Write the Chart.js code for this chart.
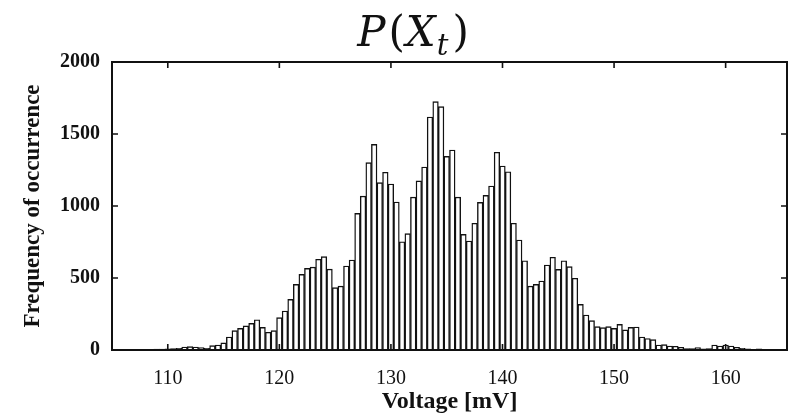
<!DOCTYPE html>
<html>
<head>
<meta charset="utf-8">
<script src="https://cdn.jsdelivr.net/npm/chart.js@4.4.1/dist/chart.umd.min.js"></script>
<style>
  html, body { margin: 0; padding: 0; background: #fff; }
  canvas { display: block; }
</style>
</head>
<body>
<canvas id="chartVoltageHistogram" width="790" height="414"></canvas>
<script>
// Bin centres of the histogram (mV), 0.5 mV wide
const binCenters = [
  108.5, 109.0, 109.5, 110.0, 110.5, 111.0, 111.5, 112.0, 112.5, 113.0,
  113.5, 114.0, 114.5, 115.0, 115.5, 116.0, 116.5, 117.0, 117.5, 118.0,
  118.5, 119.0, 119.5, 120.0, 120.5, 121.0, 121.5, 122.0, 122.5, 123.0,
  123.5, 124.0, 124.5, 125.0, 125.5, 126.0, 126.5, 127.0, 127.5, 128.0,
  128.5, 129.0, 129.5, 130.0, 130.5, 131.0, 131.5, 132.0, 132.5, 133.0,
  133.5, 134.0, 134.5, 135.0, 135.5, 136.0, 136.5, 137.0, 137.5, 138.0,
  138.5, 139.0, 139.5, 140.0, 140.5, 141.0, 141.5, 142.0, 142.5, 143.0,
  143.5, 144.0, 144.5, 145.0, 145.5, 146.0, 146.5, 147.0, 147.5, 148.0,
  148.5, 149.0, 149.5, 150.0, 150.5, 151.0, 151.5, 152.0, 152.5, 153.0,
  153.5, 154.0, 154.5, 155.0, 155.5, 156.0, 156.5, 157.0, 157.5, 158.0,
  158.5, 159.0, 159.5, 160.0, 160.5, 161.0, 161.5, 162.0, 162.5, 163.0,
  163.5
];

// Frequency of occurrence for each bin
const frequencies = [
  4, 6, 6, 8, 9, 12, 21, 23, 21, 16,
  12, 30, 35, 49, 90, 134, 150, 167, 185, 210,
  157, 123, 134, 225, 271, 352, 456, 525, 567, 576,
  630, 648, 562, 433, 444, 583, 625, 949, 1069, 1301,
  1428, 1162, 1234, 1153, 1028, 752, 808, 1062, 1174, 1271,
  1618, 1725, 1690, 1345, 1389, 1062, 803, 757, 880, 1025,
  1074, 1139, 1373, 1278, 1238, 880, 764, 620, 444, 456,
  479, 590, 644, 560, 620, 579, 498, 317, 243, 204,
  162, 155, 162, 150, 178, 140, 157, 160, 90, 80,
  72, 35, 37, 28, 26, 18, 10, 10, 16, 8,
  10, 35, 28, 35, 28, 19, 12, 8, 5, 8,
  4
];

// Tick labels
const xTickValues = [110, 120, 130, 140, 150, 160];
const yTickValues = [0, 500, 1000, 1500, 2000];

const INK = '#111111';

// Frame around the plot with inward tick marks on all four sides
const framePlugin = {
  id: 'frame',
  afterDatasetsDraw(chart) {
    const { ctx, chartArea: a, scales } = chart;
    const tick = 6;
    ctx.save();
    ctx.strokeStyle = INK;
    ctx.lineWidth = 1.6;
    xTickValues.forEach(v => {
      const px = scales.x.getPixelForValue(v);
      ctx.beginPath();
      ctx.moveTo(px, a.bottom); ctx.lineTo(px, a.bottom - tick);
      ctx.moveTo(px, a.top); ctx.lineTo(px, a.top + tick);
      ctx.stroke();
    });
    yTickValues.forEach(v => {
      const py = scales.y.getPixelForValue(v);
      ctx.beginPath();
      ctx.moveTo(a.left, py); ctx.lineTo(a.left + tick, py);
      ctx.moveTo(a.right, py); ctx.lineTo(a.right - tick, py);
      ctx.stroke();
    });
    ctx.lineWidth = 2;
    ctx.strokeRect(a.left, a.top, a.right - a.left, a.bottom - a.top);
    ctx.restore();
  }
};

// Title P(X_t) with an italic subscript
const mathTitlePlugin = {
  id: 'mathTitle',
  afterDraw(chart) {
    const { ctx } = chart;
    const italic = 'italic 42px "DejaVu Serif"';
    const upright = '42px "DejaVu Serif"';
    const sub = 'italic 29px "DejaVu Serif"';
    const parts = [
      { t: 'P', f: italic, dy: 0, gap: 3 },
      { t: '(', f: upright, dy: 0, gap: 1 },
      { t: 'X', f: italic, dy: 0, gap: 1 },
      { t: 't', f: sub, dy: 9, gap: 4 },
      { t: ')', f: upright, dy: 0, gap: 0 }
    ];
    ctx.save();
    let total = 0;
    parts.forEach(p => { ctx.font = p.f; p.w = ctx.measureText(p.t).width; total += p.w + p.gap; });
    let x = 413 - total / 2;
    const baseline = 46;
    ctx.fillStyle = INK;
    ctx.textBaseline = 'alphabetic';
    parts.forEach(p => {
      ctx.font = p.f;
      ctx.fillText(p.t, x, baseline + p.dy);
      x += p.w + p.gap;
    });
    ctx.restore();
  }
};

const ctx = document.getElementById('chartVoltageHistogram').getContext('2d');

const chart = new Chart(ctx, {
  type: 'bar',
  data: {
    datasets: [{
      label: 'Frequency of occurrence',
      data: binCenters.map((v, i) => ({ x: v, y: frequencies[i] })),
      backgroundColor: '#ffffff',
      borderColor: INK,
      borderWidth: 1.4,
      categoryPercentage: 1,
      barPercentage: 1
    }]
  },
  options: {
    responsive: false,
    animation: false,
    layout: {
      padding: { top: 62, right: 3, left: 0, bottom: 0 }
    },
    plugins: {
      legend: { display: false },
      tooltip: { enabled: false },
      title: { display: false }
    },
    scales: {
      x: {
        type: 'linear',
        offset: false,
        min: 105,
        max: 165.5,
        grid: { display: false, drawTicks: false },
        border: { display: false },
        afterBuildTicks: scale => {
          scale.ticks = xTickValues.map(v => ({ value: v }));
        },
        afterFit: scale => { scale.height = 64; },
        ticks: {
          padding: 17,
          color: INK,
          font: { family: '"Liberation Serif"', size: 20 },
          callback: v => String(v)
        },
        title: {
          display: true,
          text: 'Voltage [mV]',
          color: INK,
          font: { family: '"Liberation Serif"', size: 24, weight: 'bold', lineHeight: 1 },
          padding: { top: 0, bottom: 0 }
        }
      },
      y: {
        min: 0,
        max: 2000,
        grid: { display: false, drawTicks: false },
        border: { display: false },
        afterBuildTicks: scale => {
          scale.ticks = yTickValues.map(v => ({ value: v }));
        },
        afterFit: scale => { scale.width = 112; },
        ticks: {
          padding: 12,
          color: INK,
          font: { family: '"Liberation Serif"', size: 20, weight: 'bold' },
          callback: v => String(v)
        },
        title: {
          display: true,
          text: 'Frequency of occurrence',
          color: INK,
          font: { family: '"Liberation Serif"', size: 23, weight: 'bold', lineHeight: 1 },
          padding: { top: 22, bottom: 0 }
        }
      }
    }
  },
  plugins: [framePlugin, mathTitlePlugin]
});
</script>
</body>
</html>
